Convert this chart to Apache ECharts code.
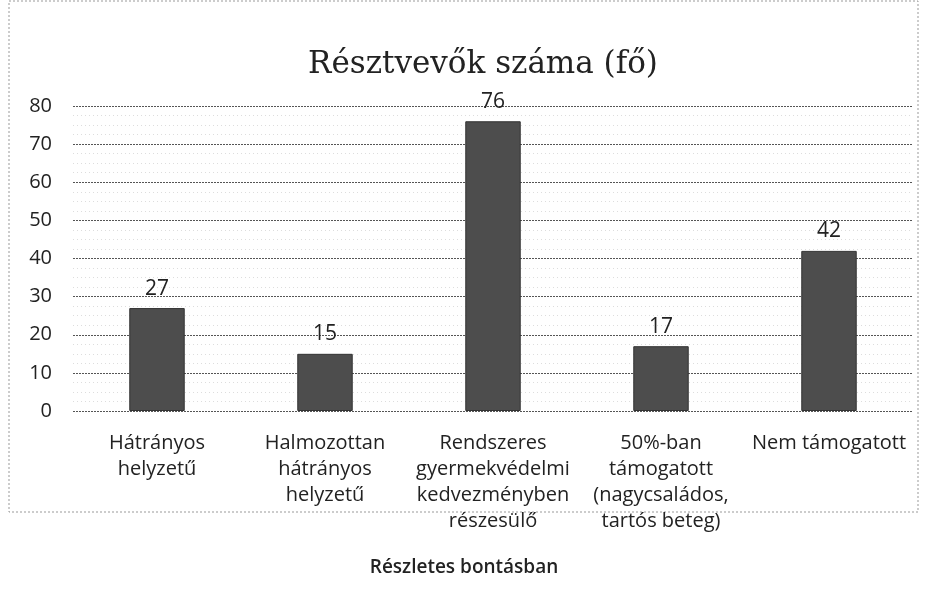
<!DOCTYPE html>
<html>
<head>
<meta charset="utf-8">
<script src="https://cdn.jsdelivr.net/npm/echarts@6/dist/echarts.min.js"></script>
<style>
  html, body { margin: 0; padding: 0; background: #fff; }
  #chart-container { width: 928px; height: 602px; }
</style>
</head>
<body>
<div id="chart-container"></div>
<script>
let categories = [
    'Hátrányos\nhelyzetű',
    'Halmozottan\nhátrányos\nhelyzetű',
    'Rendszeres\ngyermekvédelmi\nkedvezményben\nrészesülő',
    '50%-ban\ntámogatott\n(nagycsaládos,\ntartós beteg)',
    'Nem támogatott'
];
let values = [27, 15, 76, 17, 42];
let yTicks = { min: 0, max: 80, interval: 10 };

let dom = document.getElementById('chart-container');
let myChart = echarts.init(dom, null, { renderer: 'canvas' });

let option = {
    backgroundColor: '#fff',
    animation: false,
    title: {
        text: 'Résztvevők száma (fő)',
        left: 478,
        top: 44,
        textAlign: 'center',
        textStyle: {
            fontFamily: 'DejaVu Serif',
            fontWeight: 'normal',
            fontSize: 31,
            color: '#222'
        }
    },
    graphic: [
        {
            type: 'rect',
            shape: { x: 9, y: 1, width: 909, height: 511 },
            style: { fill: 'none', stroke: '#999', lineWidth: 1, lineDash: [2, 2] }
        },
        {
            type: 'text',
            left: 'center',
            top: 558,
            style: {
                text: 'Részletes bontásban',
                font: '600 19px "Open Sans"',
                fill: '#222'
            }
        }
    ],
    grid: { left: 73, right: 15, top: 106, bottom: 191 },
    xAxis: {
        type: 'category',
        data: categories,
        axisLine: { show: false },
        axisTick: { show: false },
        axisLabel: {
            interval: 0,
            margin: 19,
            fontFamily: 'Open Sans',
            fontSize: 20,
            lineHeight: 26,
            color: '#222'
        }
    },
    yAxis: {
        type: 'value',
        min: yTicks.min,
        max: yTicks.max,
        interval: yTicks.interval,
        axisLine: { show: false },
        axisTick: { show: false },
        axisLabel: {
            margin: 21,
            fontFamily: 'Open Sans',
            fontSize: 20,
            color: '#222'
        },
        splitLine: { lineStyle: { color: '#555', width: 1.2, type: [2, 1] } },
        minorTick: { show: false, splitNumber: 4 },
        minorSplitLine: { show: true, lineStyle: { color: '#ddd', width: 1, type: [1, 3] } }
    },
    series: [
        {
            type: 'bar',
            data: values,
            barWidth: '33%',
            itemStyle: {
                color: '#4d4d4d',
                borderColor: '#333',
                borderWidth: 1
            },
            label: {
                show: true,
                position: 'top',
                distance: 9,
                fontFamily: 'Open Sans',
                fontSize: 21,
                color: '#222'
            }
        }
    ]
};

myChart.setOption(option);
window.addEventListener('resize', myChart.resize);
</script>
</body>
</html>
